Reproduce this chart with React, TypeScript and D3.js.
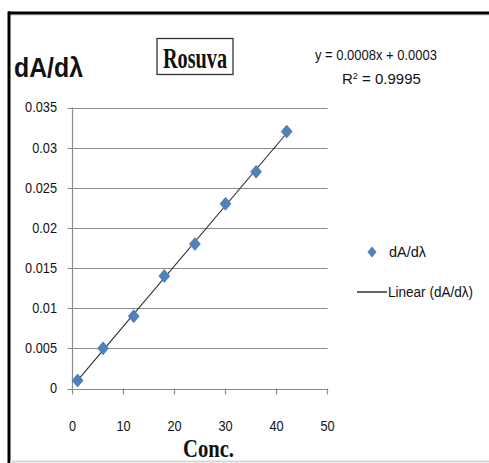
import { useEffect, useRef } from "react";
import * as d3 from "d3";

const concValues = [1, 6, 12, 18, 24, 30, 36, 42];
const derivValues = [0.001, 0.005, 0.009, 0.014, 0.018, 0.023, 0.027, 0.032];
const xTicks = [0, 10, 20, 30, 40, 50];
const yTicks = [0, 0.005, 0.01, 0.015, 0.02, 0.025, 0.03, 0.035];
const equationText = "y = 0.0008x + 0.0003";
const rSquaredValue = "0.9995";

const W = 489;
const H = 463;

// rough Calibri-like width of a numeric label
const labelWidth = (s: string, size: number) =>
    s.split("").reduce((acc, c) => acc + (c === "." ? 0.252 : 0.507), 0) * size;

const App = () => {
    const svgRef = useRef<SVGSVGElement | null>(null);

    useEffect(() => {
        const svgElement = svgRef.current;
        if (!svgElement) return;
        const svg = d3.select(svgElement);
        svg.selectAll("*").remove();

        const plot = { left: 72.5, right: 327.5, top: 107.5, bottom: 388.5 };
        const xScale = d3.scaleLinear().domain([0, 50]).range([plot.left, plot.right]);
        const yScale = d3.scaleLinear().domain([0, 0.035]).range([plot.bottom, plot.top]);
        const sans = "'Liberation Sans', Arial, sans-serif";
        const serif = "'Liberation Serif', 'Times New Roman', serif";
        const blue = "#4F81BD";
        const gridColor = "#8c8c8c";
        const tickSize = 14;

        // background + frame
        svg.append("rect").attr("width", W).attr("height", H).attr("fill", "#fff");
        svg.append("line").attr("x1", 8).attr("x2", W).attr("y1", 15).attr("y2", 15)
            .attr("stroke", "#d0d0d0").attr("stroke-width", 1);
        svg.append("line").attr("x1", 8).attr("x2", W).attr("y1", 13).attr("y2", 13)
            .attr("stroke", "#000").attr("stroke-width", 3);
        svg.append("line").attr("x1", 9).attr("x2", 9).attr("y1", 11.5).attr("y2", H)
            .attr("stroke", "#000").attr("stroke-width", 3);
        svg.append("line").attr("x1", 10).attr("x2", W).attr("y1", 461.5).attr("y2", 461.5)
            .attr("stroke", "#d6d6d6").attr("stroke-width", 2);

        // gridlines
        svg.append("g").selectAll("line").data(yTicks).join("line")
            .attr("x1", plot.left - 5).attr("x2", plot.right)
            .attr("y1", (d) => Math.round(yScale(d)) + 0.5).attr("y2", (d) => Math.round(yScale(d)) + 0.5)
            .attr("stroke", gridColor).attr("stroke-width", 1.2);

        // y axis line
        svg.append("line").attr("x1", plot.left).attr("x2", plot.left)
            .attr("y1", plot.top).attr("y2", plot.bottom)
            .attr("stroke", gridColor).attr("stroke-width", 1.2);

        // x ticks
        svg.append("g").selectAll("line").data(xTicks).join("line")
            .attr("x1", (d) => xScale(d)).attr("x2", (d) => xScale(d))
            .attr("y1", plot.bottom).attr("y2", plot.bottom + 6)
            .attr("stroke", gridColor).attr("stroke-width", 1.2);

        const yLabel = (d: number) => (d === 0 ? "0" : String(+d.toFixed(3)));

        // y tick labels
        svg.append("g").selectAll("text").data(yTicks).join("text")
            .attr("x", 57).attr("y", (d) => yScale(d))
            .attr("dy", "0.35em").attr("text-anchor", "end")
            .attr("font-family", sans).attr("font-size", tickSize)
            .attr("textLength", (d) => labelWidth(yLabel(d), tickSize))
            .attr("lengthAdjust", "spacingAndGlyphs")
            .attr("fill", "#111")
            .text(yLabel);

        // x tick labels
        svg.append("g").selectAll("text").data(xTicks).join("text")
            .attr("x", (d) => xScale(d)).attr("y", 426)
            .attr("dy", "0.35em").attr("text-anchor", "middle")
            .attr("font-family", sans).attr("font-size", tickSize)
            .attr("textLength", (d) => labelWidth(String(d), tickSize))
            .attr("lengthAdjust", "spacingAndGlyphs")
            .attr("fill", "#111")
            .text((d) => String(d));

        // trendline (least squares over the data)
        const mx = d3.mean(concValues) as number;
        const my = d3.mean(derivValues) as number;
        const sxy = d3.sum(concValues, (x, i) => (x - mx) * (derivValues[i] - my));
        const sxx = d3.sum(concValues, (x) => (x - mx) * (x - mx));
        const slope = sxy / sxx;
        const intercept = my - slope * mx;
        const xExt = d3.extent(concValues) as [number, number];
        svg.append("path")
            .attr("d", d3.line<number>().x((x) => xScale(x)).y((x) => yScale(slope * x + intercept))(xExt))
            .attr("stroke", "#2b2b2b").attr("stroke-width", 1.1).attr("fill", "none");

        // markers
        const diamond = (cx: number, cy: number, w: number, h: number) =>
            `M${cx},${cy - h / 2}L${cx + w / 2},${cy}L${cx},${cy + h / 2}L${cx - w / 2},${cy}Z`;
        svg.append("g").selectAll("path").data(concValues).join("path")
            .attr("d", (x, i) => diamond(xScale(x), yScale(derivValues[i]), 11, 13))
            .attr("fill", blue).attr("stroke", "#3f6fa8").attr("stroke-width", 0.6);

        // y title
        svg.append("text").attr("x", 14).attr("y", 77)
            .attr("font-family", sans).attr("font-weight", "bold").attr("font-size", 27)
            .attr("textLength", 69).attr("lengthAdjust", "spacingAndGlyphs")
            .attr("fill", "#111").text("dA/dλ");

        // chart title box
        svg.append("rect").attr("x", 157).attr("y", 38.5).attr("width", 76).attr("height", 36)
            .attr("fill", "#fff").attr("stroke", "#333").attr("stroke-width", 1.3);
        svg.append("text").attr("x", 163).attr("y", 67.5)
            .attr("font-family", serif).attr("font-weight", "bold").attr("font-size", 30)
            .attr("textLength", 64).attr("lengthAdjust", "spacingAndGlyphs")
            .attr("fill", "#111").text("Rosuva");

        // equation
        svg.append("text").attr("x", 315).attr("y", 60)
            .attr("font-family", sans).attr("font-size", 15)
            .attr("textLength", 122).attr("lengthAdjust", "spacingAndGlyphs")
            .attr("fill", "#111").text(equationText);
        const r2 = svg.append("text").attr("x", 342).attr("y", 84)
            .attr("font-family", sans).attr("font-size", 15)
            .attr("fill", "#111");
        r2.append("tspan").text("R");
        r2.append("tspan").attr("font-size", 9).attr("baseline-shift", "super").text("2");
        r2.append("tspan").text(" = " + rSquaredValue);

        // x title
        svg.append("text").attr("x", 183).attr("y", 457)
            .attr("font-family", serif).attr("font-weight", "bold").attr("font-size", 25)
            .attr("textLength", 51).attr("lengthAdjust", "spacingAndGlyphs")
            .attr("fill", "#111").text("Conc.");

        // legend
        svg.append("path").attr("d", diamond(372, 252, 9, 11)).attr("fill", blue);
        svg.append("text").attr("x", 389).attr("y", 252).attr("dy", "0.35em")
            .attr("font-family", sans).attr("font-size", 14)
            .attr("textLength", 37).attr("lengthAdjust", "spacingAndGlyphs")
            .attr("fill", "#111").text("dA/dλ");
        svg.append("line").attr("x1", 357).attr("x2", 387).attr("y1", 292).attr("y2", 292)
            .attr("stroke", "#111").attr("stroke-width", 1.3);
        svg.append("text").attr("x", 388).attr("y", 292).attr("dy", "0.35em")
            .attr("font-family", sans).attr("font-size", 14)
            .attr("textLength", 85).attr("lengthAdjust", "spacingAndGlyphs")
            .attr("fill", "#111").text("Linear (dA/dλ)");
    }, []);

    return (
        <svg
            ref={svgRef}
            width={W}
            height={H}
            style={{ position: "absolute", left: 0, top: 0, display: "block" }}
        ></svg>
    );
};

export default App;
